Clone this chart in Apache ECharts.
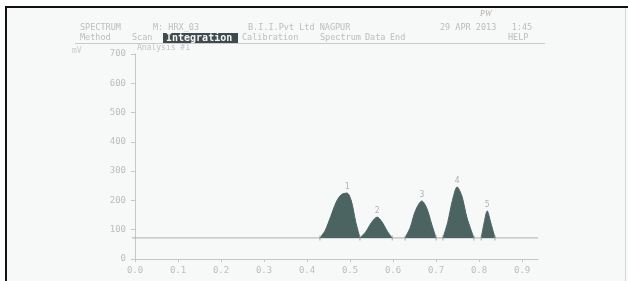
<!DOCTYPE html>
<html><head><meta charset="utf-8">
<script src="https://cdn.jsdelivr.net/npm/echarts@6/dist/echarts.min.js"></script>
<style>html,body{margin:0;padding:0;background:#fff}#c{width:628px;height:281px}</style>
</head><body><div id="c"></div>
<script>
// x ticks and y ticks
const xTicks = [0.0, 0.1, 0.2, 0.3, 0.4, 0.5, 0.6, 0.7, 0.8, 0.9];
const yTicks = [0, 100, 200, 300, 400, 500, 600, 700];
const baselineValue = 72;
const baselineRange = [-0.007, 0.937];
// peaks: [x, mV]
const peak1 = [[0.430,72],[0.442,97],[0.455,145],[0.468,195],[0.480,220],[0.493,225],[0.503,198],[0.513,128],[0.523,72]];
const peak2 = [[0.523,72],[0.537,94],[0.550,125],[0.563,143],[0.574,127],[0.587,94],[0.598,72]];
const peak3 = [[0.628,72],[0.640,108],[0.652,165],[0.667,198],[0.678,175],[0.690,118],[0.700,72]];
const peak4 = [[0.716,72],[0.727,125],[0.738,200],[0.749,246],[0.760,215],[0.772,140],[0.788,72]];
const peak5 = [[0.805,72],[0.811,118],[0.819,164],[0.827,125],[0.837,72]];
const peakNames = ['1','2','3','4','5'];
const apexes = [[0.493,225],[0.563,143],[0.667,198],[0.749,246],[0.819,164]];
const boundaries = [0.430,0.523,0.598,0.628,0.700,0.716,0.788,0.805,0.837];

const txt = '#babebe';
const mono = '"DejaVu Sans Mono", monospace';
const peakColor = '#4b6462';

const chart = echarts.init(document.getElementById('c'));
function peakSeries(d){
  return {type:'line', data:d, smooth:0.3, symbol:'none', silent:true,
    lineStyle:{color:peakColor, width:1},
    areaStyle:{color:peakColor, opacity:1, origin:baselineValue}, z:3};
}
const gText = (x,y,t,size)=>({type:'text', left:x, top:y, style:{text:t, fill:txt, font:(size||9)+'px '+mono}});
chart.setOption({
  backgroundColor:'#ffffff',
  animation:false,
  grid:{left:132, right:90, top:54, bottom:22},
  xAxis:{type:'value', min:-0.007, max:0.937, interval:0.1,
    axisLine:{show:true, lineStyle:{color:'#c4c8c8'}},
    axisTick:{show:true, length:3, customValues: xTicks, lineStyle:{color:'#c4c8c8'}},
    splitLine:{show:false},
    axisLabel:{color:txt, fontFamily:mono, fontSize:9, margin:7,
      customValues: xTicks, formatter:v=>v.toFixed(1)}},
  yAxis:{type:'value', min:0, max:700, interval:100,
    axisLine:{show:true, lineStyle:{color:'#c4c8c8'}},
    axisTick:{show:true, length:4, lineStyle:{color:'#c4c8c8'}},
    splitLine:{show:false},
    axisLabel:{color:txt, fontFamily:mono, fontSize:9, margin:6,
      customValues: yTicks}},
  graphic:[
    {type:'rect', left:5, top:7, shape:{width:623, height:274}, style:{fill:'#f7f8f8'}, z:-10},
    {type:'rect', left:5, top:6, shape:{width:623, height:2}, style:{fill:'#111'}},
    {type:'rect', left:5, top:6, shape:{width:2, height:275}, style:{fill:'#111'}},
    {type:'rect', left:625, top:8, shape:{width:1, height:273}, style:{fill:'#d8d8d8'}},
    gText(80,23,'SPECTRUM',8.5),
    gText(153,23,'M: HRX_03',8.5),
    gText(248,23,'B.I.I.Pvt Ltd NAGPUR',8.5),
    gText(440,23,'29 APR 2013   1:45',8.5),
    gText(80,33,'Method',8.5), gText(132,33,'Scan',8.5),
    {type:'rect', left:163, top:33, shape:{width:75, height:10}, style:{fill:'#3f4a4c'}},
    {type:'text', left:166, top:33, style:{text:'Integration', fill:'#f4f4f4', font:'bold 10px '+mono}},
    gText(242,33,'Calibration',8.5), gText(320,33,'Spectrum',8.5), gText(365,33,'Data',8.5), gText(390,33,'End',8.5),
    gText(508,33,'HELP',8.5),
    {type:'rect', left:75, top:43, shape:{width:470, height:1}, style:{fill:'#c8cccc'}},
    {type:'text', left:72, top:47, style:{text:'mV', fill:'#c8cccc', font:'8px '+mono}},
    {type:'text', left:137, top:44, style:{text:'Analysis #1', fill:'#c0c4c4', font:'8px '+mono}},
    {type:'text', left:480, top:10, style:{text:'PW', fill:'#b8a9a0', font:'italic 8px serif'}}
  ],
  series:[
    {type:'line', data:baselineRange.map(x=>[x,baselineValue]), symbol:'none', silent:true,
      lineStyle:{color:'#a9b0b0', width:1}, z:2},
    peakSeries(peak1), peakSeries(peak2), peakSeries(peak3), peakSeries(peak4), peakSeries(peak5),
    {type:'scatter', data:apexes, symbolSize:0, silent:true, z:4,
      label:{show:true, position:'top', distance:2, color:'#9aa2a2', fontSize:8, fontFamily:mono,
        formatter:p=>peakNames[p.dataIndex]}},
    {type:'scatter', data:boundaries.map(x=>[x,baselineValue]), symbol:'rect', symbolSize:[1,5], silent:true, z:4,
      itemStyle:{color:'#8d9696'}}
  ]
});
</script></body></html>
